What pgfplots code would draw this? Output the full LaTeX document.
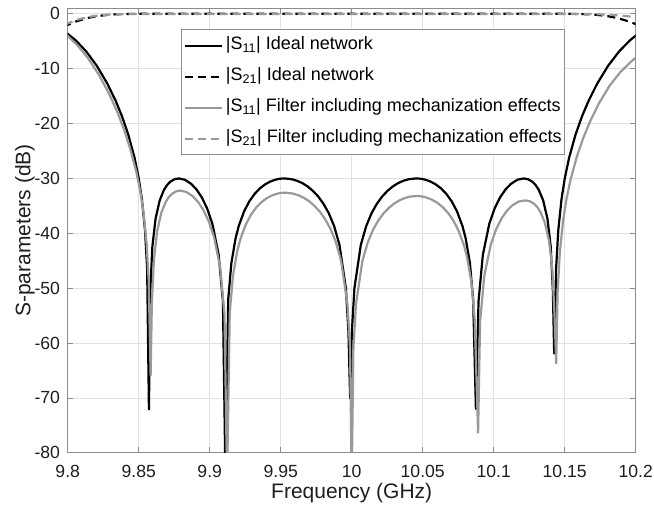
\documentclass[border=0pt]{standalone}
\usepackage{fontspec}
\setmainfont{Liberation Sans}
\usepackage{pgfplots}
\pgfplotsset{compat=1.18}
\definecolor{axgray}{RGB}{140,140,140}
\definecolor{gridgray}{RGB}{225,225,225}
\definecolor{lgray}{RGB}{153,153,153}
\definecolor{txt}{RGB}{30,30,30}

\begin{document}
\begin{tikzpicture}
\begin{axis}[width=568bp,height=444.5bp,scale only axis,
    xmin=9.8,xmax=10.2,ymin=-80,ymax=1,
    xtick={9.8,9.85,9.9,9.95,10,10.05,10.1,10.15,10.2},
    xticklabels={9.8,9.85,9.9,9.95,10,10.05,10.1,10.15,10.2},
    ytick={-80,-70,-60,-50,-40,-30,-20,-10,0},
    yticklabels={-80,-70,-60,-50,-40,-30,-20,-10,0},
    scaled x ticks=false,
    tick align=inside,tick pos=both,major tick length=5.5bp,
    major tick style={axgray,line width=0.8bp},
    grid=major,major grid style={gridgray,line width=0.7bp},
    axis line style={axgray,line width=0.8bp},
    tick label style={font=\fontsize{17.6bp}{21bp}\selectfont,text=txt,inner sep=0pt},
    xticklabel style={anchor=base,yshift=-24.5bp},
    yticklabel style={anchor=east,xshift=-7.5bp},
    xlabel={Frequency (GHz)},
    xlabel style={at={(axis description cs:0.5,-0.1039)},anchor=base,inner sep=0pt,
        font=\fontsize{21bp}{24bp}\selectfont,text=txt},
    ylabel={S-parameters (dB)},
    ylabel style={at={(axis description cs:-0.0655,0.5)},anchor=base,inner sep=0pt,
        font=\fontsize{21bp}{24bp}\selectfont,text=txt},
    legend cell align=left,
    legend image code/.code={\draw[#1] (0bp,0bp) -- (37bp,0bp);},
    legend style={at={(axis description cs:0.2,0.953)},anchor=north west,
        draw=axgray,line width=0.8bp,fill=white,
        font=\fontsize{18bp}{21bp}\selectfont,
        inner xsep=2.5bp,inner ysep=6bp,row sep=11bp,column sep=2.5bp,
        nodes={inner sep=0pt,text height=14bp,text depth=6bp}},
    every axis plot/.append style={line width=2.2bp,line join=round},
]
% |S11| ideal network
\addplot[black] coordinates {
(9.79698,-3.105) (9.7989,-3.434) (9.8058,-4.87) (9.81316,-6.90) (9.82052,-9.49)
(9.82789,-12.72) (9.83379,-15.86) (9.83821,-18.66) (9.84264,-22.00) (9.84707,-26.25)
(9.85003,-30.00) (9.85224,-33.78) (9.85446,-39.47) (9.85594,-46.41) (9.8572,-72.1)
(9.85816,-50.44) (9.85963,-42.41) (9.86185,-37.36) (9.86481,-33.98) (9.86777,-32.10)
(9.86999,-31.20) (9.87221,-30.60) (9.87518,-30.15) (9.87829,-30.0) (9.88258,-30.25)
(9.88703,-31.01) (9.89074,-32.03) (9.89445,-33.47) (9.89816,-35.45) (9.90188,-38.27)
(9.90633,-43.95) (9.90931,-52.40) (9.91112,-85) (9.91302,-52.10) (9.91525,-45.45)
(9.91823,-40.89) (9.92046,-38.66) (9.92418,-36.02) (9.9279,-34.17) (9.93163,-32.82)
(9.93535,-31.81) (9.93908,-31.07) (9.94281,-30.55) (9.94654,-30.21) (9.94952,-30.05)
(9.95266,-30.0) (9.95774,-30.14) (9.96147,-30.42) (9.96521,-30.85) (9.96895,-31.46)
(9.97268,-32.27) (9.97643,-33.30) (9.98017,-34.64) (9.98391,-36.37) (9.98766,-38.72)
(9.9914,-42.13) (9.9959,-50.01) (9.9977,-57.96) (9.9989,-70.1) (10.0001,-57.96)
(10.0019,-50.01) (10.0064,-42.13) (10.01016,-38.72) (10.01391,-36.37) (10.01767,-34.64)
(10.02143,-33.30) (10.02518,-32.27) (10.02895,-31.46) (10.03271,-30.85) (10.03647,-30.42)
(10.04024,-30.14) (10.04536,-30.0) (10.04852,-30.05) (10.05154,-30.21) (10.05531,-30.55)
(10.05908,-31.07) (10.06285,-31.81) (10.06663,-32.82) (10.0704,-34.17) (10.07418,-36.02)
(10.07796,-38.66) (10.08023,-40.89) (10.08325,-45.45) (10.08552,-52.10) (10.08746,-72.0)
(10.08931,-52.40) (10.09233,-43.95) (10.09688,-38.27) (10.10066,-35.45) (10.10445,-33.47)
(10.10824,-32.03) (10.11203,-31.01) (10.11658,-30.25) (10.12099,-30.0) (10.12418,-30.15)
(10.12721,-30.60) (10.12949,-31.20) (10.13177,-32.10) (10.13481,-33.98) (10.13785,-37.36)
(10.14013,-42.41) (10.14166,-50.44) (10.14258,-61.9) (10.14394,-46.41) (10.14546,-39.47)
(10.14774,-33.78) (10.15003,-30.0) (10.15307,-26.25) (10.15764,-22.00) (10.16221,-18.66)
(10.16679,-15.86) (10.17289,-12.72) (10.18052,-9.49) (10.18816,-6.90) (10.1958,-4.87)
(10.1989,-4.20) (10.20039,-3.905)
};
\addlegendentry{|S\textsubscript{11}| Ideal network}
% |S21| ideal network
\addplot[black,dash pattern=on 8bp off 5bp] coordinates {
(9.79698,-2.40) (9.7989,-2.15) (9.8058,-1.40) (9.81316,-0.81) (9.82052,-0.43)
(9.82789,-0.20) (9.83379,-0.09) (9.83821,-0.05) (9.84264,-0.02) (9.85003,0)
(10.15003,0) (10.15764,-0.02) (10.16221,-0.05) (10.16679,-0.09) (10.17289,-0.20)
(10.18052,-0.44) (10.18816,-0.84) (10.1958,-1.45) (10.1989,-1.77) (10.20039,-1.93)
};
\addlegendentry{|S\textsubscript{21}| Ideal network}
% |S11| filter including mechanization effects
\addplot[lgray] coordinates {
(9.79808,-3.66) (9.8,-4.03) (9.8069,-5.75) (9.81426,-8.06) (9.82162,-10.98)
(9.82899,-14.48) (9.83489,-17.86) (9.83931,-20.83) (9.84374,-24.35) (9.84817,-28.63)
(9.85113,-32.36) (9.85334,-36.13) (9.85556,-41.81) (9.85704,-48.74) (9.8584,-65.9)
(9.85926,-52.76) (9.86073,-44.72) (9.86295,-39.66) (9.86591,-36.26) (9.86887,-34.36)
(9.87109,-33.44) (9.87331,-32.83) (9.87628,-32.36) (9.87939,-32.2) (9.88368,-32.48)
(9.88813,-33.26) (9.89184,-34.30) (9.89555,-35.76) (9.89926,-37.76) (9.90298,-40.60)
(9.90743,-46.30) (9.91041,-54.77) (9.91222,-85) (9.91412,-54.48) (9.91635,-47.84)
(9.91933,-43.30) (9.92156,-41.09) (9.92528,-38.46) (9.929,-36.64) (9.93273,-35.30)
(9.93645,-34.32) (9.94018,-33.59) (9.94391,-33.10) (9.94764,-32.78) (9.95062,-32.63)
(9.95376,-32.6) (9.95884,-32.77) (9.96257,-33.08) (9.96631,-33.53) (9.97005,-34.16)
(9.97378,-35.00) (9.97753,-36.05) (9.98127,-37.42) (9.98501,-39.17) (9.98876,-41.55)
(9.9925,-44.98) (9.997,-52.89) (9.9988,-60.85) (10.0,-85) (10.0012,-60.86)
(10.003,-52.92) (10.0075,-45.07) (10.01126,-41.69) (10.01501,-39.36) (10.01877,-37.65)
(10.02253,-36.34) (10.02628,-35.33) (10.03005,-34.55) (10.03381,-33.96) (10.03757,-33.56)
(10.04134,-33.30) (10.04646,-33.2) (10.04962,-33.29) (10.05264,-33.48) (10.05641,-33.86)
(10.06018,-34.42) (10.06395,-35.20) (10.06773,-36.25) (10.0715,-37.64) (10.07528,-39.53)
(10.07906,-42.21) (10.08133,-44.46) (10.08435,-49.05) (10.08662,-55.73) (10.0890,-76.3)
(10.09041,-56.05) (10.09343,-47.63) (10.09798,-42.00) (10.10176,-39.22) (10.10555,-37.28)
(10.10934,-35.88) (10.11313,-34.90) (10.11768,-34.21) (10.12209,-34.0) (10.12528,-34.15)
(10.12831,-34.60) (10.13059,-35.20) (10.13287,-36.10) (10.13591,-37.98) (10.13895,-41.36)
(10.14123,-46.41) (10.14276,-54.44) (10.1440,-63.7) (10.14504,-50.41) (10.14656,-43.47)
(10.14884,-37.73) (10.15113,-33.9) (10.15417,-30.13) (10.15874,-25.85) (10.16331,-22.46)
(10.16789,-19.61) (10.17399,-16.37) (10.18162,-13.09) (10.18926,-10.60) (10.1969,-8.67)
(10.2000,-8.0)
};
\addlegendentry{|S\textsubscript{11}| Filter including mechanization effects}
% |S21| filter including mechanization effects
\addplot[lgray,dash pattern=on 8bp off 5bp] coordinates {
(9.79808,-1.95) (9.8,-1.75) (9.8069,-1.07) (9.81426,-0.60) (9.82162,-0.30)
(9.82899,-0.15) (9.83489,-0.08) (9.83931,-0.06) (9.845,-0.05) (10.17,-0.05)
(10.17399,-0.09) (10.18162,-0.19) (10.18926,-0.33) (10.1969,-0.51) (10.2,-0.6)
};
\addlegendentry{|S\textsubscript{21}| Filter including mechanization effects}
\coordinate (bbbl) at (axis description cs:-0.1192,-0.1219);
\coordinate (bbtr) at (axis description cs:1.0322,1.0187);
\end{axis}
\pgfresetboundingbox
\path[use as bounding box] (bbbl) rectangle (bbtr);
\end{tikzpicture}
\end{document}
